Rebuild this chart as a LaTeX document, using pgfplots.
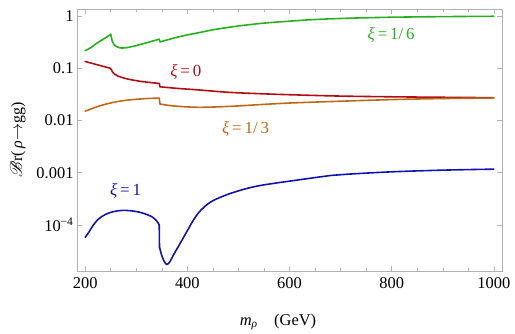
\documentclass[border=0pt]{standalone}
\usepackage{pgfplots}
\pgfplotsset{compat=1.18}
\usepackage{fontspec}
\setmainfont{Liberation Serif}
\usepackage{mathrsfs}
\definecolor{cgreen}{RGB}{40,175,30}
\definecolor{cred}{RGB}{175,15,20}
\definecolor{corange}{RGB}{190,105,25}
\definecolor{cblue}{RGB}{15,20,175}
\begin{document}
\begin{tikzpicture}
\begin{axis}[name=ax, scale only axis, width=425bp, height=262bp,
  ymode=log, log basis y=10,
  xmin=184, xmax=1016, ymin=1.32e-5, ymax=1.35,
  axis line style={gray!60}, every tick/.style={gray!60, line width=0.5pt},
  tick align=inside, major tick length=5bp, minor tick length=3bp,
  xtick={200,400,600,800,1000}, minor x tick num=3,
  xticklabels={200,400,600,800,1000},
  ytick={1,0.1,0.01,0.001,0.0001},
  yticklabels={1,0.1,0.01,0.001,{10\textsuperscript{−4}}},
  ticklabel style={font=\fontsize{16.5}{18}\selectfont, black},
  xticklabel style={yshift=-3bp},
  xlabel={{\itshape m}\textsubscript{\itshape ρ}\quad(GeV)},
  xlabel style={at={(axis description cs:0.473,-0.195)}, anchor=center, font=\fontsize{16.5}{18}\selectfont},
  ylabel={$\mathscr{B}$r(\,{\itshape ρ}$\rightarrow$gg)},
  ylabel style={at={(axis description cs:-0.139,0.5)}, anchor=center, rotate=0, font=\fontsize{16}{18}\selectfont},
  clip=true,
  every axis plot/.append style={line width=1.6pt, line join=round, line cap=round},
  sm/.style={smooth, tension=0.55},
]
% xi = 1/6
\addplot[cgreen, sm] coordinates {
(200,0.216) (212,0.25) (223,0.300) (235,0.355) (245,0.41) (250,0.445)};
\addplot[cgreen, sm] coordinates {
(250,0.445) (251,0.40) (253,0.33) (256,0.285) (261,0.259) (268,0.244) (280,0.245) (300,0.270)
(320,0.305) (345,0.358)};
\addplot[cgreen] coordinates {(345,0.358) (346.5,0.318)};
\addplot[cgreen, sm] coordinates {
(346.5,0.318) (360,0.345) (380,0.390) (400,0.432)
(422,0.475) (450,0.540) (487,0.615) (520,0.675) (553,0.73) (600,0.79)
(650,0.85) (716,0.90) (800,0.94) (900,0.965) (1000,0.98)};
% xi = 0
\addplot[cred, sm] coordinates {(200,0.134) (225,0.115) (248,0.100)};
\addplot[cred, sm] coordinates {
(248,0.100) (251,0.094) (254,0.083) (258,0.076) (265,0.070)
(280,0.063) (300,0.0575) (320,0.054) (345,0.051)};
\addplot[cred] coordinates {(345,0.051) (346.5,0.044)};
\addplot[cred, sm] coordinates {
(346.5,0.044) (380,0.041)
(422,0.0383) (480,0.0345) (540,0.0325) (600,0.0310) (700,0.0292)
(800,0.0283) (900,0.0277) (1000,0.0272)};
% xi = 1/3
\addplot[corange, sm] coordinates {
(200,0.0150) (225,0.0185) (249,0.0215) (270,0.0235) (291,0.0249)
(320,0.0262) (345,0.0267)};
\addplot[corange] coordinates {(345,0.0267) (346.5,0.0206)};
\addplot[corange, sm] coordinates {
(346.5,0.0206) (365,0.0193) (383,0.0186)
(422,0.0178) (480,0.0185) (540,0.0200) (600,0.0215) (700,0.0233)
(800,0.0250) (900,0.0262) (1000,0.0268)};
% xi = 1
\addplot[cblue, sm] coordinates {
(200,5.8e-5) (208,7.5e-5) (216,1.0e-4) (226,1.3e-4) (240,1.6e-4)
(255,1.8e-4) (272,1.9e-4) (290,1.87e-4) (310,1.72e-4) (330,1.45e-4)
(340,1.2e-4) (345,1.0e-4)};
\addplot[cblue] coordinates {(345,1.0e-4) (345.5,3.8e-5)};
\addplot[cblue, sm] coordinates {
(345.5,3.8e-5) (350,2.6e-5) (355,2.0e-5)
(360,1.76e-5) (366,2.0e-5) (373,2.7e-5) (385,4.3e-5) (400,7.8e-5)
(411,1.2e-4) (422,1.72e-4) (435,2.3e-4) (448,2.85e-4) (465,3.4e-4) (487,4.1e-4)
(520,5.1e-4) (552,5.9e-4) (618,7.3e-4) (683,8.9e-4) (716,9.4e-4)
(800,1.04e-3) (900,1.12e-3) (1000,1.17e-3)};
\node[cgreen, font=\fontsize{17}{18}\selectfont] at (axis cs:799,0.436) {{\itshape ξ}\,=\,1/\,6};
\node[cred, font=\fontsize{17}{18}\selectfont] at (axis cs:397,0.0845) {{\itshape ξ}\,=\,0};
\node[corange, font=\fontsize{17}{18}\selectfont] at (axis cs:514,0.0069) {{\itshape ξ}\,=\,1/\,3};
\node[cblue, font=\fontsize{17}{18}\selectfont] at (axis cs:279,4.36e-4) {{\itshape ξ}\,=\,1};
\end{axis}
\pgfresetboundingbox
\path[use as bounding box] ([xshift=-77bp,yshift=-62bp]ax.south west) rectangle ([xshift=13bp,yshift=9bp]ax.north east);
\end{tikzpicture}
\end{document}
